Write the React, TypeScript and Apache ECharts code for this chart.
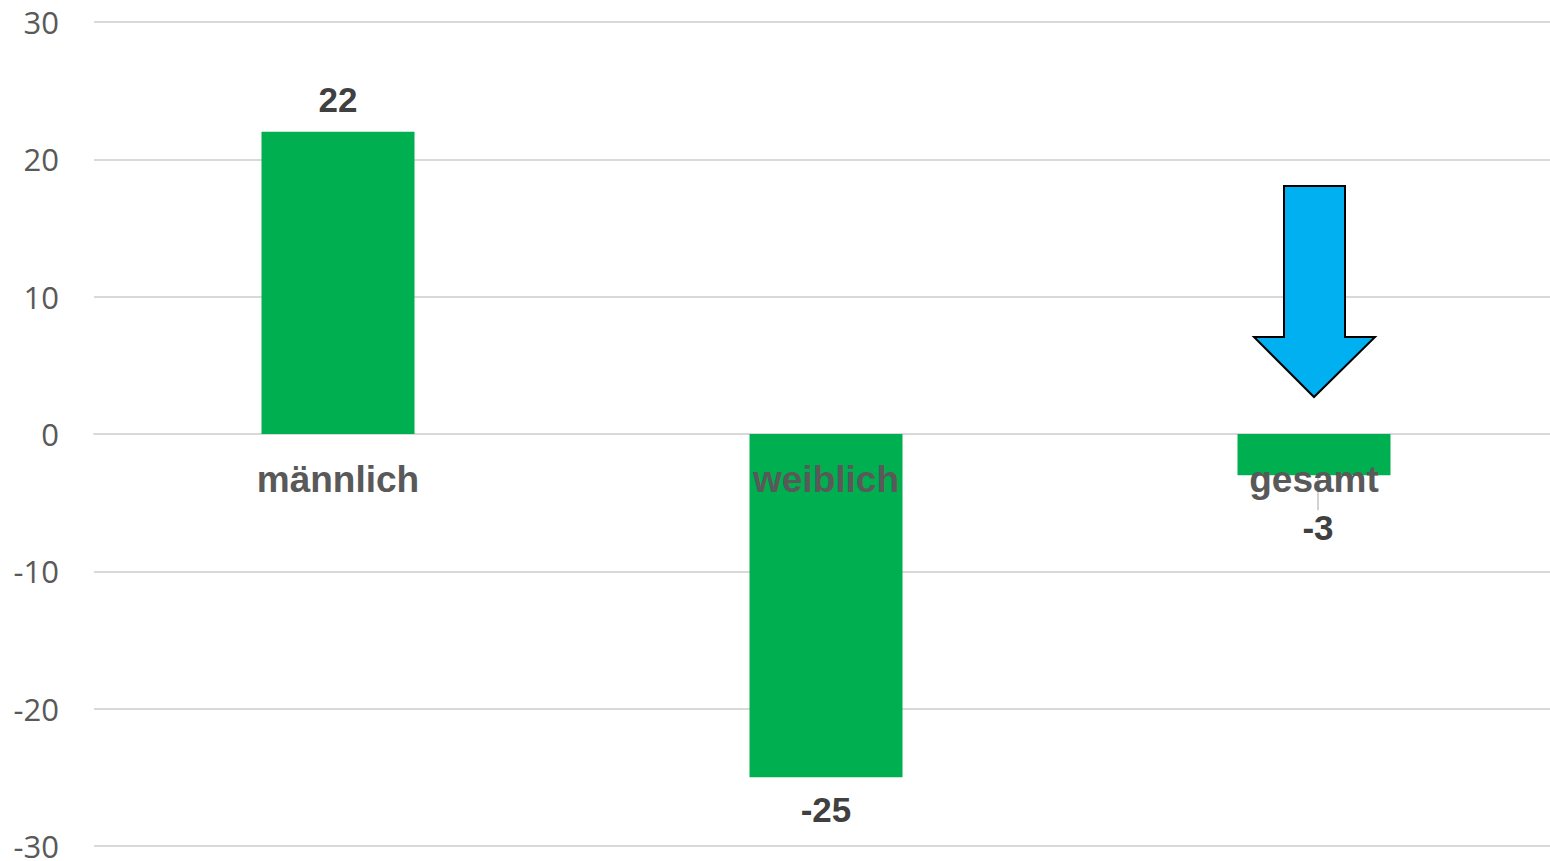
import React, { useEffect, useRef } from "react";
import * as echarts from "echarts";

const categories = ["männlich", "weiblich", "gesamt"];
const values = [22, -25, -3];
const yMin = -30;
const yMax = 30;
const yInterval = 10;

export default function App() {
  const ref = useRef<HTMLDivElement>(null);
  useEffect(() => {
    document.body.style.margin = "0";
    const chart = echarts.init(ref.current!, null, { renderer: "svg" });
    chart.setOption({
      animation: false,
      grid: {
        left: 94,
        right: -8,
        top: 22,
        bottom: 15,
        containLabel: false,
        outerBoundsMode: "none",
      },
      xAxis: {
        type: "category",
        data: categories,
        axisLine: { show: true, onZero: true, lineStyle: { color: "#d9d9d9", width: 2 } },
        axisTick: { show: false },
        axisLabel: { show: false },
        splitLine: { show: false },
      },
      yAxis: {
        type: "value",
        min: yMin,
        max: yMax,
        interval: yInterval,
        axisLine: { show: false },
        axisTick: { show: false },
        axisLabel: {
          margin: 35,
          color: "#595959",
          fontFamily: "Open Sans, sans-serif",
          fontSize: 31,
        },
        splitLine: { lineStyle: { color: "#d9d9d9", width: 2 } },
      },
      series: [
        {
          type: "bar",
          barWidth: 153,
          itemStyle: { color: "#00B050" },
          data: values.map((v, i) => ({
            value: v,
            label: { position: v >= 0 ? "top" : "bottom" },
            labelLine: { show: i === 2 },
          })),
          label: {
            show: true,
            distance: 15,
            color: "#404040",
            fontFamily: "Liberation Sans, Arial, sans-serif",
            fontWeight: "bold",
            fontSize: 35,
          },
          labelLayout: (params: any) =>
            params.dataIndex === 2 ? { dy: 20, dx: 4 } : {},
          labelLine: { show: true, lineStyle: { color: "#a6a6a6", width: 1 } },
        },
        {
          type: "scatter",
          symbolSize: 0,
          z: 10,
          silent: true,
          itemStyle: { opacity: 1 },
          data: categories.map(() => 0),
          label: {
            show: true,
            position: "bottom",
            distance: 27,
            formatter: (p: any) => p.name,
            color: "#595959",
            fontFamily: "Liberation Sans, Arial, sans-serif",
            fontWeight: "bold",
            fontSize: 37,
          },
        },
      ],
      graphic: [
        {
          type: "polygon",
          z: 20,
          shape: {
            points: [
              [1284, 186],
              [1345, 186],
              [1345, 337],
              [1375, 337],
              [1314, 397],
              [1254, 337],
              [1284, 337],
            ],
          },
          style: { fill: "#00B0F0", stroke: "#000000", lineWidth: 2 },
        },
      ],
    });
    return () => chart.dispose();
  }, []);
  return (
    <div
      ref={ref}
      style={{ position: "absolute", left: 0, top: 0, width: 1550, height: 861 }}
    />
  );
}
